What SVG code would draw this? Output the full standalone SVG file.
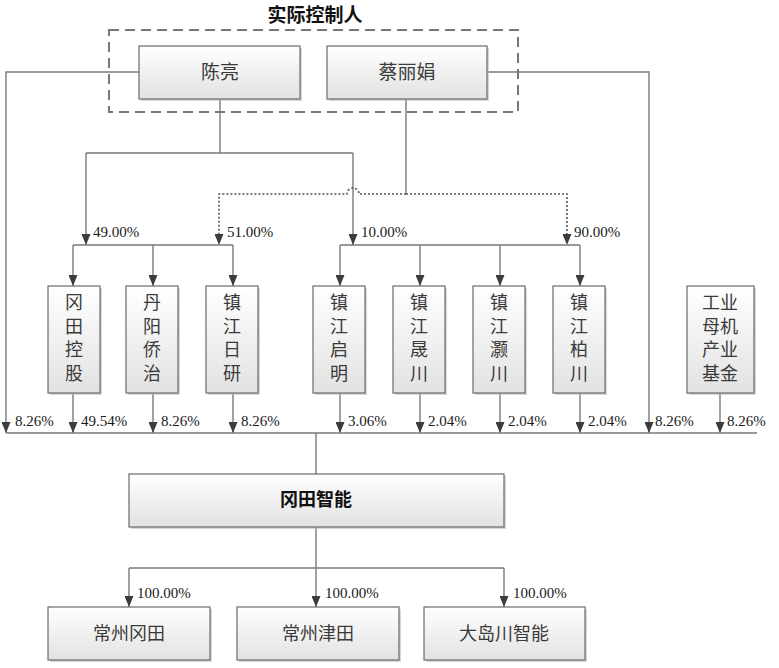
<svg xmlns="http://www.w3.org/2000/svg" width="779" height="668" viewBox="0 0 779 668">
<style>
.box{fill:url(#g);stroke:#6a6a6a;stroke-width:1.2}
.sh{fill:#bdbdbd;opacity:0.6}
.ln{fill:none;stroke:#7a7a7a;stroke-width:1.4}
.dot{fill:none;stroke:#555;stroke-width:1.6;stroke-dasharray:2,2}
.arr{marker-end:url(#a)}
.t{font-family:"Liberation Serif","Noto Sans CJK SC",serif;font-size:18px;fill:#3a3a3a;text-anchor:middle}
.b{font-weight:bold;fill:#111}
.p{font-family:"Liberation Serif",serif;font-size:15px;fill:#1a1a1a}
</style>
<defs>
<linearGradient id="g" x1="0" y1="0" x2="0" y2="1">
<stop offset="0" stop-color="#ffffff"/>
<stop offset="1" stop-color="#e2e2e2"/>
</linearGradient>
<marker id="a" viewBox="0 0 11 9" refX="11" refY="4.5" markerWidth="11" markerHeight="9" orient="auto" markerUnits="userSpaceOnUse">
<path d="M0,0 L11,4.5 L0,9 z" fill="#3c3c3c"/>
</marker>
</defs>
<rect width="779" height="668" fill="#ffffff"/>
<text class="t b" x="315" y="22" style="font-size:19px">实际控制人</text>
<rect x="109" y="30" width="409" height="82" fill="none" stroke="#777" stroke-width="2" stroke-dasharray="10,6"/>

<g id="connectors">
<path class="ln arr" d="M139,72 H6 V433"/>
<path class="ln arr" d="M487,72 H649 V433"/>
<path class="ln" d="M220,99 V153 M86,153 H353"/>
<path class="ln arr" d="M86,153 V245"/>
<path class="ln arr" d="M353,153 V245"/>
<path class="ln" d="M406,99 V194"/>
<path class="dot arr" d="M406,194 H359 A6,6 0 0 0 347,194 H219 V245"/>
<path class="dot arr" d="M406,194 H567 V245"/>
<path class="ln" d="M73,245 H233 M340,245 H580"/>
<path class="ln arr" d="M73,245 V286"/>
<path class="ln arr" d="M153,245 V286"/>
<path class="ln arr" d="M233,245 V286"/>
<path class="ln arr" d="M340,245 V286"/>
<path class="ln arr" d="M420,245 V286"/>
<path class="ln arr" d="M500,245 V286"/>
<path class="ln arr" d="M580,245 V286"/>
<path class="ln arr" d="M73,393 V433"/>
<path class="ln arr" d="M153,393 V433"/>
<path class="ln arr" d="M233,393 V433"/>
<path class="ln arr" d="M340,393 V433"/>
<path class="ln arr" d="M420,393 V433"/>
<path class="ln arr" d="M500,393 V433"/>
<path class="ln arr" d="M580,393 V433"/>
<path class="ln arr" d="M720,393 V433"/>
<path class="ln" d="M6,433 H757 M316,433 V474"/>
<path class="ln" d="M316,527 V568 M129,568 H504"/>
<path class="ln arr" d="M129,568 V607"/>
<path class="ln arr" d="M316,568 V607"/>
<path class="ln arr" d="M504,568 V607"/>
<text class="p" x="93" y="237">49.00%</text>
<text class="p" x="227" y="237">51.00%</text>
<text class="p" x="361" y="237">10.00%</text>
<text class="p" x="574" y="237">90.00%</text>
<text class="p" x="15" y="426">8.26%</text>
<text class="p" x="81" y="426">49.54%</text>
<text class="p" x="161" y="426">8.26%</text>
<text class="p" x="241" y="426">8.26%</text>
<text class="p" x="348" y="426">3.06%</text>
<text class="p" x="428" y="426">2.04%</text>
<text class="p" x="508" y="426">2.04%</text>
<text class="p" x="588" y="426">2.04%</text>
<text class="p" x="655" y="426">8.26%</text>
<text class="p" x="727" y="426">8.26%</text>
<text class="p" x="137" y="598">100.00%</text>
<text class="p" x="325" y="598">100.00%</text>
<text class="p" x="513" y="598">100.00%</text>
</g>

<g id="chenliang">
<rect class="sh" x="141" y="48" width="161" height="53"/>
<rect class="box" x="139" y="46" width="161" height="53"/>
<text class="t" x="220" y="79" style="font-size:19px">陈亮</text>
</g>
<g id="cailijuan">
<rect class="sh" x="329" y="48" width="160" height="53"/>
<rect class="box" x="327" y="46" width="160" height="53"/>
<text class="t" x="407" y="79" style="font-size:19px">蔡丽娟</text>
</g>

<g id="gangtian-konggu">
<rect class="sh" x="50" y="288" width="52" height="107"/>
<rect class="box" x="48" y="286" width="52" height="107"/>
<text class="t" x="74" y="309">冈</text><text class="t" x="74" y="333">田</text><text class="t" x="74" y="356">控</text><text class="t" x="74" y="380">股</text>
</g>
<g id="danyang-qiaozhi">
<rect class="sh" x="128" y="288" width="52" height="107"/>
<rect class="box" x="126" y="286" width="52" height="107"/>
<text class="t" x="152" y="309">丹</text><text class="t" x="152" y="333">阳</text><text class="t" x="152" y="356">侨</text><text class="t" x="152" y="380">治</text>
</g>
<g id="zhenjiang-riyan">
<rect class="sh" x="208" y="288" width="52" height="107"/>
<rect class="box" x="206" y="286" width="52" height="107"/>
<text class="t" x="232" y="309">镇</text><text class="t" x="232" y="333">江</text><text class="t" x="232" y="356">日</text><text class="t" x="232" y="380">研</text>
</g>
<g id="zhenjiang-qiming">
<rect class="sh" x="315" y="288" width="52" height="107"/>
<rect class="box" x="313" y="286" width="52" height="107"/>
<text class="t" x="339" y="309">镇</text><text class="t" x="339" y="333">江</text><text class="t" x="339" y="356">启</text><text class="t" x="339" y="380">明</text>
</g>
<g id="zhenjiang-shengchuan">
<rect class="sh" x="395" y="288" width="52" height="107"/>
<rect class="box" x="393" y="286" width="52" height="107"/>
<text class="t" x="419" y="309">镇</text><text class="t" x="419" y="333">江</text><text class="t" x="419" y="356">晟</text><text class="t" x="419" y="380">川</text>
</g>
<g id="zhenjiang-haochuan">
<rect class="sh" x="475" y="288" width="52" height="107"/>
<rect class="box" x="473" y="286" width="52" height="107"/>
<text class="t" x="499" y="309">镇</text><text class="t" x="499" y="333">江</text><text class="t" x="499" y="356">灏</text><text class="t" x="499" y="380">川</text>
</g>
<g id="zhenjiang-baichuan">
<rect class="sh" x="555" y="288" width="52" height="107"/>
<rect class="box" x="553" y="286" width="52" height="107"/>
<text class="t" x="579" y="309">镇</text><text class="t" x="579" y="333">江</text><text class="t" x="579" y="356">柏</text><text class="t" x="579" y="380">川</text>
</g>
<g id="gongye-fund">
<rect class="sh" x="689" y="288" width="67" height="107"/>
<rect class="box" x="687" y="286" width="67" height="107"/>
<text class="t" x="720" y="309">工业</text><text class="t" x="720" y="333">母机</text><text class="t" x="720" y="356">产业</text><text class="t" x="720" y="380">基金</text>
</g>

<g id="gangtian-zhineng">
<rect class="sh" x="131" y="476" width="375" height="53"/>
<rect class="box" x="129" y="474" width="375" height="53"/>
<text class="t b" x="316" y="506">冈田智能</text>
</g>

<g id="changzhou-gangtian">
<rect class="sh" x="50" y="609" width="162" height="53"/>
<rect class="box" x="48" y="607" width="162" height="53"/>
<text class="t" x="129" y="640">常州冈田</text>
</g>
<g id="changzhou-jintian">
<rect class="sh" x="239" y="609" width="162" height="53"/>
<rect class="box" x="237" y="607" width="162" height="53"/>
<text class="t" x="318" y="640">常州津田</text>
</g>
<g id="dadaochuan">
<rect class="sh" x="426" y="609" width="161" height="53"/>
<rect class="box" x="424" y="607" width="161" height="53"/>
<text class="t" x="504" y="640">大岛川智能</text>
</g>
</svg>
